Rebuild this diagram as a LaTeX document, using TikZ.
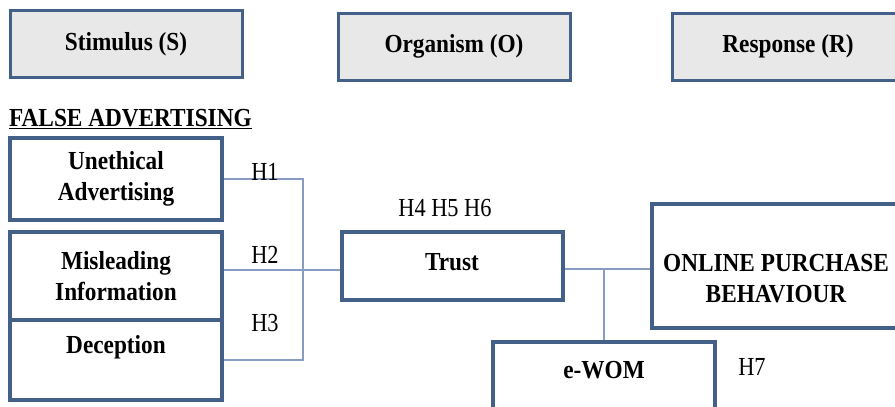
\documentclass[tikz,border=0pt]{standalone}
\usepackage{fontspec}
\setmainfont{Liberation Serif}[FakeStretch=0.86, BoldFeatures={FakeStretch=0.895}]
\definecolor{boxblue}{RGB}{66,96,136}
\definecolor{linkblue}{RGB}{135,155,195}
\definecolor{topgray}{RGB}{232,232,232}
\begin{document}
\begin{tikzpicture}[x=1pt,y=-1pt,
  txt/.style={inner sep=0pt, align=center, font=\bfseries\fontsize{26}{31}\selectfont},
  box/.style={draw=boxblue, line width=3.5pt, fill=white, inner sep=0pt, align=center,
              font=\bfseries\fontsize{26}{31}\selectfont},
  topbox/.style={box, fill=topgray, line width=3pt, minimum width=232pt, minimum height=67pt},
  conn/.style={draw=linkblue, line width=1.5pt},
  hyp/.style={inner sep=0pt, font=\fontsize{26}{31}\selectfont}]
\useasboundingbox (0,0) rectangle (895,407);

% top row
\node[topbox] (stim) at (126,44) {Stimulus (S)};
\node[topbox] (org) at (454,46.5) {Organism (O)};
\node[topbox] (resp) at (788,46.5) {Response (R)};

% heading
\node[txt, anchor=west] (fa) at (9,119) {\underline{FALSE ADVERTISING}};

% stimulus boxes
\node[box, minimum width=212pt, minimum height=82pt] (une) at (116,179) {Unethical\\Advertising};
\node[box, minimum width=212pt, minimum height=88pt] (mis) at (116,276) {Misleading\\Information};
\node[box, minimum width=212pt, minimum height=80pt] (dec) at (116,360) {};
\node[txt] (decT) at (116,347) {Deception};

% organism
\node[box, minimum width=221pt, minimum height=68pt] (trust) at (452.5,266) {};
\node[txt] (trustT) at (452,262) {Trust};
\node[box, minimum width=222pt, minimum height=80pt] (ewom) at (604,382) {};
\node[txt] (ewomT) at (604,370) {e-WOM};

% response
\node[box, minimum width=248pt, minimum height=124pt] (opb) at (776,266) {};
\node[txt] (opbT) at (776,279) {ONLINE PURCHASE\\BEHAVIOUR};

% connectors
\coordinate (bus1) at (303,179);
\coordinate (bus3) at (303,360);
\draw[conn] (une.east) -- (bus1) -- (bus3) -- (dec.east);
\draw[conn] ([yshift=-4pt]mis.east |- trust.west) -- ([yshift=-4pt]trust.west);
\draw[conn] ([yshift=-3pt]trust.east) -- ([yshift=-3pt]opb.west);
\coordinate (jn) at ([yshift=-3pt]ewom.north |- trust.east);
\draw[conn] (jn) -- (ewom.north);

% hypothesis labels
\node[hyp] (h1) at (265,172) {H1};
\node[hyp] (h2) at (265,255) {H2};
\node[hyp] (h3) at (265,323) {H3};
\node[hyp] (h456) at (445,208) {H4 H5 H6};
\node[hyp] (h7) at (752,367) {H7};
\end{tikzpicture}
\end{document}
